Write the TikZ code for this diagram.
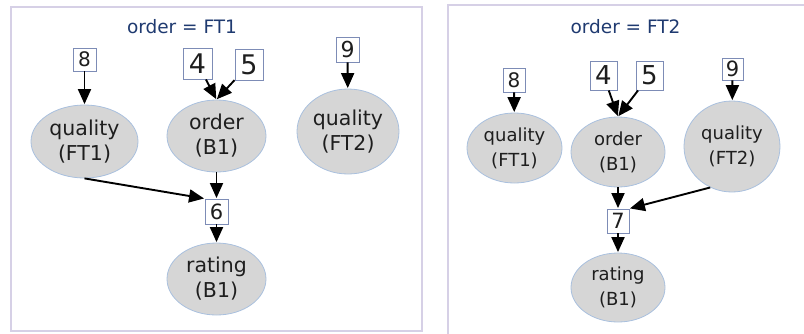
\documentclass[tikz,border=0pt]{standalone}
\usepackage{fontspec}
\setmainfont{DejaVu Sans}
\usetikzlibrary{shapes.geometric,arrows.meta}
\definecolor{framecol}{HTML}{D6D0E6}
\definecolor{titlecol}{HTML}{1F3A70}
\definecolor{nodefill}{HTML}{D6D6D6}
\definecolor{nodeline}{HTML}{A9C0DE}
\definecolor{boxline}{HTML}{7D8CB6}
\definecolor{textcol}{HTML}{1E1E1E}
\tikzset{
  panel/.style={draw=framecol, line width=1.2pt},
  title/.style={text=titlecol, inner sep=0pt},
  var/.style={ellipse, draw=nodeline, fill=nodefill, line width=0.8pt,
    inner sep=0pt, align=center, text=textcol},
  factor/.style={rectangle, draw=boxline, fill=white, line width=0.9pt,
    inner sep=0pt, text=textcol},
  edge/.style={draw=black, line width=1.9pt,
    -{Triangle[length=15pt,width=13pt]}, shorten >=0.5pt},
}
\begin{document}
\begin{tikzpicture}[x=1pt, y=-1pt]
\useasboundingbox (0,0) rectangle (804,333);

% ---------- first panel: order = FT1 ----------
\draw[panel] (11,7) rectangle (422,331);
\node[title, font=\fontsize{18.5}{22}\selectfont] (t1) at (182,27) {order = FT1};

\node[factor, minimum width=23pt, minimum height=23pt, font=\fontsize{20}{24}\selectfont] (a8) at (84.5,59.5) {8};
\node[factor, minimum width=29pt, minimum height=31pt, font=\fontsize{27}{30}\selectfont] (a4) at (197.5,63.5) {4};
\node[factor, minimum width=28pt, minimum height=31pt, font=\fontsize{27}{30}\selectfont] (a5) at (249,64.5) {5};
\node[factor, minimum width=23pt, minimum height=25pt, font=\fontsize{22}{26}\selectfont] (a9) at (347.5,49.5) {9};

\node[var, minimum width=107pt, minimum height=73pt, font=\fontsize{20.5}{25}\selectfont] (aq1) at (84.5,141.5) {quality\\(FT1)};
\node[var, minimum width=99pt, minimum height=72pt, font=\fontsize{20.5}{25}\selectfont] (ao) at (216.5,136) {order\\(B1)};
\node[var, minimum width=102pt, minimum height=85pt, font=\fontsize{20.5}{25}\selectfont] (aq2) at (348,131.5) {quality\\(FT2)};

\node[factor, minimum width=23pt, minimum height=25pt, font=\fontsize{21}{25}\selectfont] (a6) at (216.5,211.5) {6};
\node[var, minimum width=99pt, minimum height=72pt, font=\fontsize{20.5}{25}\selectfont] (ar) at (216.5,279) {rating\\(B1)};

\draw[edge] (a8) -- (aq1);
\draw[edge] (a4) -- (ao.north);
\draw[edge] (a5) -- (ao.north);
\draw[edge] (a9) -- (aq2);
\draw[edge] (ao) -- (a6);
\draw[edge] (aq1.south) -- (a6.north west);
\draw[edge] (a6) -- (ar);

% ---------- second panel: order = FT2 ----------
\draw[panel] (448,340) -- (448,5) -- (810,5);
\node[title, font=\fontsize{18.5}{22}\selectfont] (t2) at (625.5,27) {order = FT2};

\node[factor, minimum width=22pt, minimum height=24pt, font=\fontsize{20}{24}\selectfont] (b8) at (514,80) {8};
\node[factor, minimum width=27pt, minimum height=29pt, font=\fontsize{26}{30}\selectfont] (b4) at (603.5,75.5) {4};
\node[factor, minimum width=27pt, minimum height=29pt, font=\fontsize{26}{30}\selectfont] (b5) at (649.5,75.5) {5};
\node[factor, minimum width=21pt, minimum height=22pt, font=\fontsize{21}{25}\selectfont] (b9) at (732.5,69) {9};

\node[var, minimum width=95pt, minimum height=70pt, font=\fontsize{18}{25}\selectfont] (bq1) at (514.5,148) {quality\\(FT1)};
\node[var, minimum width=94pt, minimum height=70pt, font=\fontsize{18}{25}\selectfont] (bo) at (618,152) {order\\(B1)};
\node[var, minimum width=96pt, minimum height=91pt, font=\fontsize{18}{25}\selectfont] (bq2) at (732,146.5) {quality\\(FT2)};

\node[factor, minimum width=22pt, minimum height=24pt, font=\fontsize{21}{25}\selectfont] (b7) at (618,221) {7};
\node[var, minimum width=94pt, minimum height=69pt, font=\fontsize{18}{25}\selectfont] (br) at (618,287.5) {rating\\(B1)};

\draw[edge] (b8) -- (bq1);
\draw[edge] (b4) -- (bo.north);
\draw[edge] (b5) -- (bo.north);
\draw[edge] (b9) -- (bq2);
\draw[edge] (bo) -- (b7);
\draw[edge] (bq2.242) -- (b7.north east);
\draw[edge] (b7) -- (br);
\end{tikzpicture}
\end{document}
